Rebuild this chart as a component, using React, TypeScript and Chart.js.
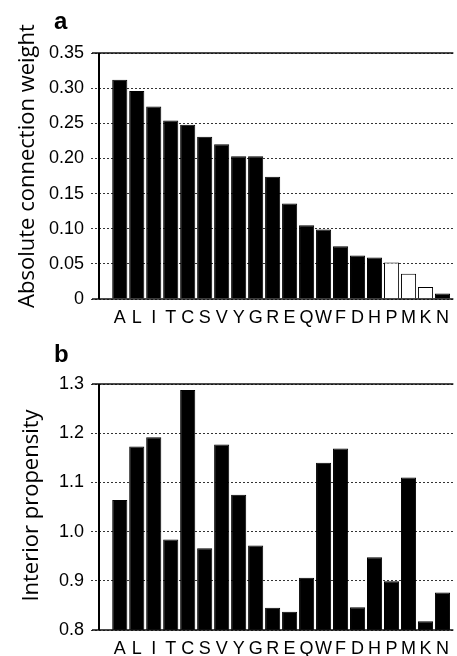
import React, { useEffect, useRef } from "react";
import { Chart, registerables } from "chart.js";

Chart.register(...registerables);

// ---- data ----
const categories = ["A", "L", "I", "T", "C", "S", "V", "Y", "G", "R", "E", "Q", "W", "F", "D", "H", "P", "M", "K", "N"];
const connectionWeight = [0.312, 0.296, 0.274, 0.254, 0.248, 0.231, 0.22, 0.203, 0.203, 0.174, 0.136, 0.105, 0.099, 0.075, 0.062, 0.059, 0.052, 0.036, 0.017, 0.008];
const interiorPropensity = [1.064, 1.173, 1.192, 0.984, 1.288, 0.966, 1.177, 1.075, 0.972, 0.845, 0.837, 0.906, 1.14, 1.169, 0.846, 0.948, 0.899, 1.11, 0.818, 0.876];
const hollowCategories = ["P", "M", "K"];
const weightTicks = [0, 0.05, 0.1, 0.15, 0.2, 0.25, 0.3, 0.35];
const propensityTicks = [0.8, 0.9, 1.0, 1.1, 1.2, 1.3];

const TICK_FONT = "'Liberation Sans', Arial, sans-serif";
const TITLE_FONT = "'Open Sans', 'Noto Sans', sans-serif";

type PanelOpts = {
  values: number[];
  ticks: number[];
  fmt: (v: number) => string;
  hollow: string[];
  letter: string;
  letterY: number;
  title: string;
  titleX: number;
  titleY: number;
  axisHeight: number;
};

function makeChart(canvas: HTMLCanvasElement, o: PanelOpts) {
  const yMin = o.ticks[0];
  const yMax = o.ticks[o.ticks.length - 1];
  const decor = {
    id: "decor",
    afterDraw(chart: any) {
      const { ctx, chartArea } = chart;
      const ys = chart.scales.y;
      ctx.save();
      ctx.strokeStyle = "#111";
      ctx.lineWidth = 1.5;
      const yt = ys.getPixelForValue(yMax);
      const yb = ys.getPixelForValue(yMin);
      ctx.beginPath();
      ctx.moveTo(chartArea.left - 7, yt);
      ctx.lineTo(chartArea.right, yt);
      ctx.moveTo(chartArea.left - 7, yb);
      ctx.lineTo(chartArea.right, yb);
      ctx.stroke();
      ctx.lineWidth = 2;
      ctx.strokeStyle = "#000";
      ctx.beginPath();
      ctx.moveTo(chartArea.left, yt);
      ctx.lineTo(chartArea.left, yb);
      ctx.stroke();
      ctx.fillStyle = "#000";
      ctx.font = `bold 24px ${TICK_FONT}`;
      ctx.textAlign = "left";
      ctx.textBaseline = "alphabetic";
      ctx.fillText(o.letter, 54, o.letterY);
      ctx.font = `22px ${TITLE_FONT}`;
      ctx.translate(o.titleX, o.titleY);
      ctx.rotate(-Math.PI / 2);
      ctx.textAlign = "center";
      ctx.fillText(o.title, 0, 0);
      ctx.restore();
    },
  };

  return new Chart(canvas, {
    type: "bar",
    data: {
      datasets: [
        {
          data: categories.map((c, i) => ({ x: i, y: o.values[i] })),
          backgroundColor: categories.map((c) => (o.hollow.includes(c) ? "#ffffff" : "#000000")),
          borderColor: "#000000",
          borderWidth: 1,
          categoryPercentage: 1,
          barPercentage: 0.89,
        },
      ],
    },
    options: {
      animation: false,
      responsive: false,
      events: [],
      layout: { padding: { top: 53, left: 0, right: 0, bottom: 0 } },
      plugins: { legend: { display: false }, tooltip: { enabled: false } },
      scales: {
        x: {
          type: "linear",
          offset: false,
          min: -1.2226,
          max: 19.6398,
          afterBuildTicks: (s: any) => {
            s.ticks = categories.map((_, i) => ({ value: i }));
          },
          afterFit: (s: any) => {
            s.height = o.axisHeight;
          },
          grid: { display: false, drawTicks: false, offset: false },
          border: { display: false },
          ticks: {
            autoSkip: false,
            maxRotation: 0,
            minRotation: 0,
            padding: 8,
            color: "#000",
            font: { family: TICK_FONT, size: 18 },
            callback: (v: any) => categories[v as number] ?? "",
          },
        },
        y: {
          type: "linear",
          min: yMin,
          max: yMax,
          afterBuildTicks: (s: any) => {
            s.ticks = o.ticks.map((v) => ({ value: v }));
          },
          afterFit: (s: any) => {
            s.width = 99;
          },
          grid: {
            color: "#333",
            lineWidth: 1,
            drawTicks: true,
            tickLength: 8,
            tickBorderDash: [2, 2],
          },
          border: { display: false, dash: [2, 2] },
          ticks: {
            padding: 7,
            color: "#000",
            font: { family: TICK_FONT, size: 18 },
            callback: (v: any) => o.fmt(v as number),
          },
        },
      },
    },
    plugins: [decor],
  } as any);
}

function Panel(props: PanelOpts & { top: number; height: number }) {
  const ref = useRef<HTMLCanvasElement>(null);
  useEffect(() => {
    const chart = makeChart(ref.current!, props);
    return () => chart.destroy();
  }, []);
  return (
    <canvas
      ref={ref}
      width={457}
      height={props.height}
      style={{ position: "absolute", left: 0, top: props.top, display: "block" }}
    />
  );
}

export default function App() {
  return (
    <div
      style={{
        position: "absolute",
        left: 0,
        top: 0,
        width: 457,
        height: 656,
        overflow: "hidden",
        background: "#fff",
      }}
    >
      <Panel
        top={0}
        height={329}
        axisHeight={30}
        values={connectionWeight}
        ticks={weightTicks}
        fmt={(v) => (v === 0 ? "0" : v.toFixed(2))}
        hollow={hollowCategories}
        letter="a"
        letterY={28.5}
        title="Absolute connection weight"
        titleX={33.5}
        titleY={166}
      />
      <Panel
        top={331}
        height={325}
        axisHeight={26}
        values={interiorPropensity}
        ticks={propensityTicks}
        fmt={(v) => v.toFixed(1)}
        hollow={[]}
        letter="b"
        letterY={30.7}
        title="Interior propensity"
        titleX={37.5}
        titleY={174.5}
      />
    </div>
  );
}
